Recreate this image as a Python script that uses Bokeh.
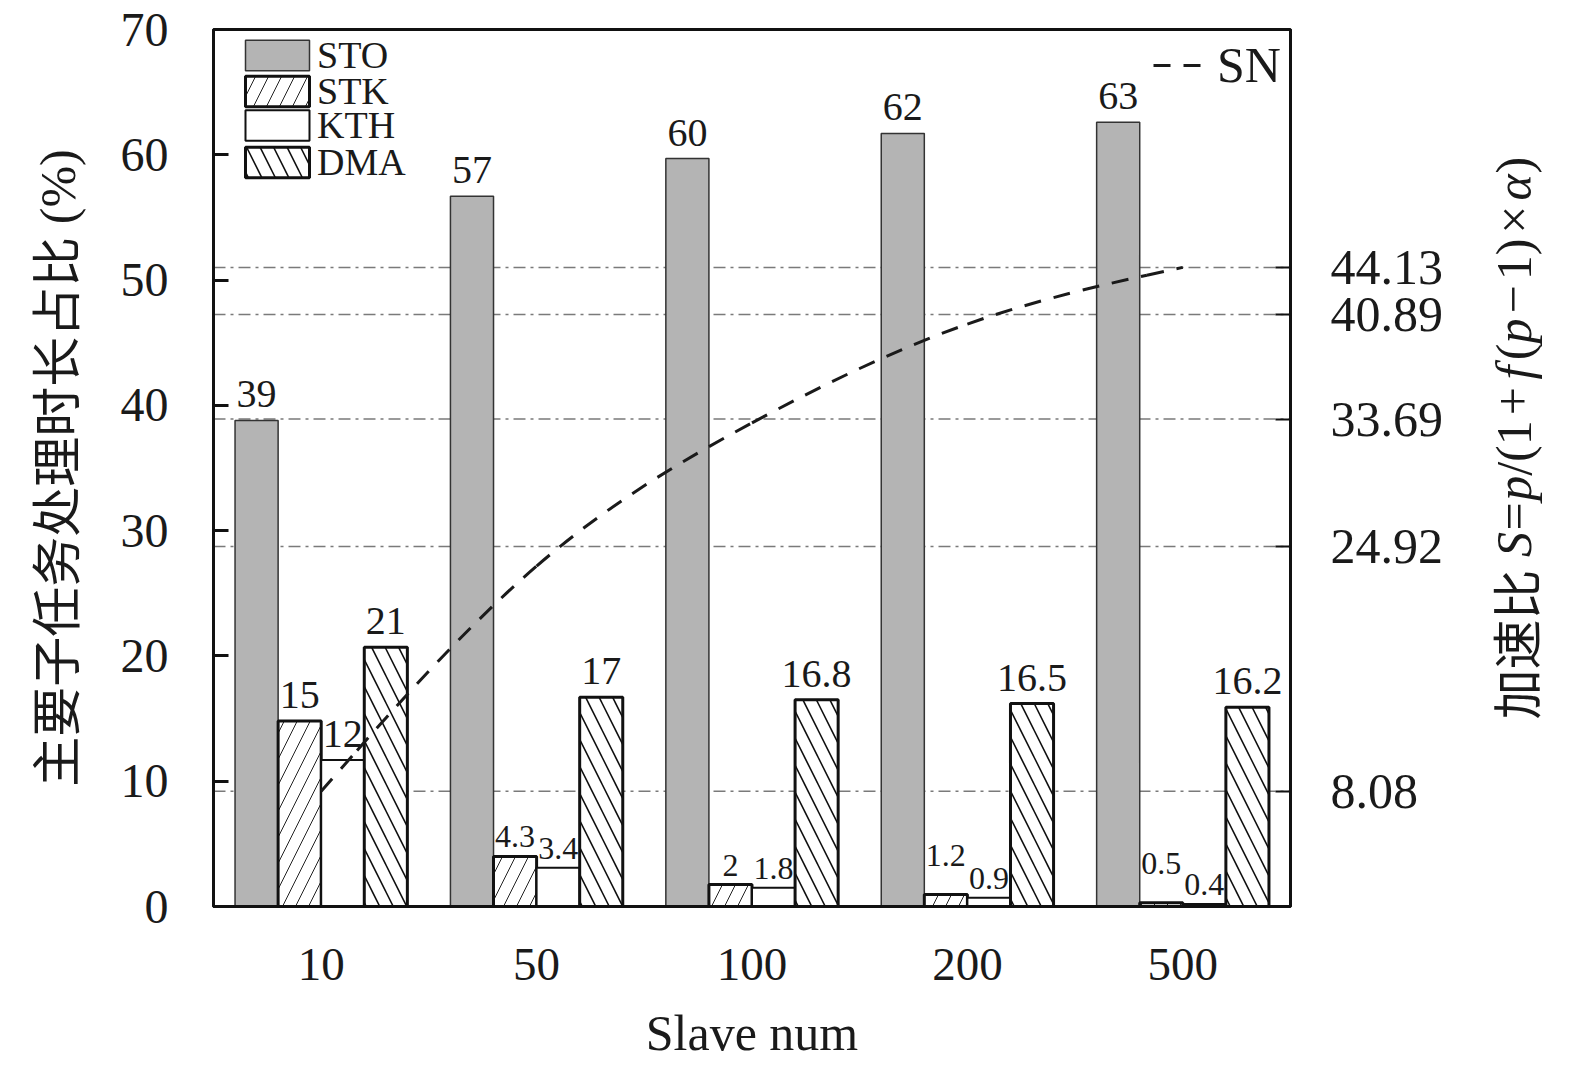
import math
from bokeh.plotting import figure
from bokeh.layouts import row
from bokeh.models import (ColumnDataSource, FactorRange, Range1d, LinearAxis, FixedTicker,
                          PrintfTickFormatter, Span, Legend, LegendItem, Grid)
from bokeh.transform import dodge
from bokeh.core.properties import value
from bokeh.embed import file_html
from bokeh.resources import INLINE

# ---------------- data ----------------
slave_num = ["10", "50", "100", "200", "500"]
sto = [38.8, 56.7, 59.7, 61.7, 62.6]
stk = [14.8, 4.0, 1.75, 0.95, 0.3]
kth = [11.7, 3.1, 1.5, 0.7, 0.2]
dma = [20.7, 16.7, 16.5, 16.2, 15.9]
sto_labels = ["39", "57", "60", "62", "63"]
stk_labels = ["15", "4.3", "2", "1.2", "0.5"]
kth_labels = ["12", "3.4", "1.8", "0.9", "0.4"]
dma_labels = ["21", "17", "16.8", "16.5", "16.2"]
sn = [8.08, 24.92, 33.69, 40.89, 44.13]
left_ticks = [0, 10, 20, 30, 40, 50, 60, 70]

SERIF = "'Liberation Serif'"
CJK = "'Noto Sans CJK SC'"
MIXED = "'Liberation Serif', 'Noto Sans CJK SC'"
FRAME_W = 1077
FRAME_H = 877
BORDER_LEFT = 213
BORDER_RIGHT = 170
BORDER_TOP = 29
BORDER_BOTTOM = 177

p = figure(x_range=FactorRange(factors=slave_num), y_range=Range1d(0, 70),
           frame_width=FRAME_W, frame_height=FRAME_H,
           min_border_left=BORDER_LEFT, min_border_right=BORDER_RIGHT, min_border_top=BORDER_TOP,
           min_border_bottom=BORDER_BOTTOM,
           output_backend="svg", toolbar_location=None)
p.extra_y_ranges = {"sn": Range1d(0.15, 60.5)}
p.xgrid.visible = False
p.ygrid.visible = False
p.outline_line_color = "#111111"
p.outline_line_width = 3
p.outline_line_alpha = 1.0

# dash-dot reference lines at the speed-up values (behind bars)
for v in sn:
    p.add_layout(Span(location=v, dimension="width", y_range_name="sn",
                      line_color="#7a7a7a", line_width=1.5, line_dash="12 5 3 5",
                      level="underlay"))

styles = {
    "STO": dict(fill_color="#b4b4b4", line_color="#333333", line_width=1.5),
    "STK": dict(fill_color="white", line_color="#111111", line_width=3,
                hatch_pattern="/", hatch_color="#222222", hatch_weight=1, hatch_scale=26),
    "KTH": dict(fill_color="white", line_color="#111111", line_width=2),
    "DMA": dict(fill_color="white", line_color="#111111", line_width=3,
                hatch_pattern="\\", hatch_color="#111111", hatch_weight=1.6, hatch_scale=27),
}
series = [("STO", sto, sto_labels, -0.3), ("STK", stk, stk_labels, -0.1),
          ("KTH", kth, kth_labels, 0.1), ("DMA", dma, dma_labels, 0.3)]

bar_renderers = {}
for name, vals, labs, off in series:
    sizes = ["40px" if v >= 10 else "32px" for v in vals]
    yoff = []
    for v in vals:
        base = -13 if v >= 10 else -9
        lift = -20 if (name == "STK" and v < 1.5) else 0
        yoff.append(base + lift)
    src = ColumnDataSource(dict(cat=slave_num, val=vals, label=labs, size=sizes, yoff=yoff))
    r = p.vbar(x=dodge("cat", off, range=p.x_range), top="val", width=0.2, bottom=0,
               source=src, **styles[name])
    bar_renderers[name] = r
    p.text(x=dodge("cat", off, range=p.x_range), y="val", text="label", source=src,
           text_align="center", text_baseline="bottom", text_font=value(SERIF),
           text_font_size="size", y_offset="yoff", text_color="#1a1a1a")

# speed-up curve: uniform cubic B-spline whose control points are the SN values,
# drawn as Bezier segments (end points clamped)
pts = [(i + 0.5, s) for i, s in enumerate(sn)]
ctrl = [pts[0], pts[0]] + pts + [pts[-1], pts[-1]]
bz = dict(x0=[], y0=[], x1=[], y1=[], cx0=[], cy0=[], cx1=[], cy1=[])
for i in range(len(ctrl) - 3):
    q0, q1, q2, q3 = ctrl[i:i + 4]
    b0 = [(q0[j] + 4 * q1[j] + q2[j]) / 6 for j in range(2)]
    c0 = [(2 * q1[j] + q2[j]) / 3 for j in range(2)]
    c1 = [(q1[j] + 2 * q2[j]) / 3 for j in range(2)]
    b1 = [(q1[j] + 4 * q2[j] + q3[j]) / 6 for j in range(2)]
    for (a, b), pt in zip([("x0", "y0"), ("cx0", "cy0"), ("cx1", "cy1"), ("x1", "y1")],
                          [b0, c0, c1, b1]):
        bz[a].append(pt[0])
        bz[b].append(pt[1])
r_sn = p.bezier(x0="x0", y0="y0", x1="x1", y1="y1", cx0="cx0", cy0="cy0", cx1="cx1", cy1="cy1",
                source=ColumnDataSource(bz), y_range_name="sn",
                line_color="#1a1a1a", line_width=3, line_dash="17 13")

# ---------------- axes ----------------
yax = p.yaxis[0]
yax.ticker = FixedTicker(ticks=left_ticks)
yax.major_tick_in = 15
yax.major_tick_out = 0
yax.minor_tick_in = 0
yax.minor_tick_out = 0
yax.axis_line_width = 3
yax.axis_line_color = "#111111"
yax.major_tick_line_width = 3
yax.major_tick_line_color = "#111111"
yax.major_label_text_font = SERIF
yax.major_label_text_font_size = "48px"
yax.major_label_text_color = "#1a1a1a"
yax.major_label_standoff = 45
yax.axis_label = "主要子任务处理时长占比 (%)"
yax.axis_label_text_font = MIXED
yax.axis_label_text_font_size = "50px"
yax.axis_label_text_font_style = "normal"
yax.axis_label_text_color = "#1a1a1a"
yax.axis_label_standoff = 32

xax = p.xaxis[0]
xax.major_tick_in = 0
xax.major_tick_out = 0
xax.minor_tick_in = 0
xax.minor_tick_out = 0
xax.axis_line_width = 3
xax.axis_line_color = "#111111"
xax.major_label_text_font = SERIF
xax.major_label_text_font_size = "47px"
xax.major_label_text_color = "#1a1a1a"
xax.major_label_standoff = 42
xax.axis_label = "Slave num"
xax.axis_label_text_font = SERIF
xax.axis_label_text_font_size = "50px"
xax.axis_label_text_font_style = "normal"
xax.axis_label_text_color = "#1a1a1a"
xax.axis_label_standoff = 22

rax = LinearAxis(y_range_name="sn", ticker=FixedTicker(ticks=sn),
                 formatter=PrintfTickFormatter(format="%.2f"))
rax.major_tick_in = 15
rax.major_tick_out = 0
rax.minor_tick_in = 0
rax.minor_tick_out = 0
rax.axis_line_width = 3
rax.axis_line_color = "#111111"
rax.major_tick_line_width = 2
rax.major_tick_line_color = "#111111"
rax.major_label_text_font = SERIF
rax.major_label_text_font_size = "50px"
rax.major_label_text_color = "#1a1a1a"
rax.major_label_standoff = 40
p.add_layout(rax, "right")

# ---------------- legends ----------------
legend_centers = [23.5, 60, 94, 130.5]   # glyph centres below the frame top (px)
for name, c in zip(["STO", "STK", "KTH", "DMA"], legend_centers):
    leg = Legend(items=[LegendItem(label=name, renderers=[bar_renderers[name]])],
                 location=(24, 853 - c), orientation="vertical",
                 glyph_width=80, glyph_height=38, label_standoff=0, spacing=0,
                 padding=0, margin=0,
                 label_text_font=SERIF, label_text_font_size="38px", label_text_color="#1a1a1a",
                 border_line_color=None, background_fill_alpha=0)
    p.add_layout(leg)

leg2 = Legend(items=[LegendItem(label="SN", renderers=[r_sn], index=2)],
              location=(940, 812), glyph_width=55, glyph_height=40, label_standoff=9,
              padding=0, margin=0,
              label_text_font=SERIF, label_text_font_size="50px", label_text_color="#1a1a1a",
              border_line_color=None, background_fill_alpha=0)
p.add_layout(leg2)

# ---------------- right-hand axis title (reads bottom to top, mixed italic) ----------------
# a narrow companion plot whose frame lines up with the main frame; its ranges are in pixels
T_W = 100
p2 = figure(frame_width=T_W, frame_height=FRAME_H,
            x_range=Range1d(0, T_W), y_range=Range1d(0, FRAME_H),
            min_border_left=0, min_border_right=0, min_border_top=BORDER_TOP,
            min_border_bottom=BORDER_BOTTOM, toolbar_location=None, output_backend="svg",
            x_axis_location=None, y_axis_location=None, outline_line_color=None)
for g in p2.center:
    if isinstance(g, Grid):
        g.visible = False

FS = 50.0
# (text, font kind, advance in em, padding before/after in em)
pieces = [("加速比", "cjk", 3.0, 0.0, 0.0), (" ", "n", 0.25, 0.0, 0.0),
          ("S", "i", 0.5, 0.0, 0.0), ("=", "n", 0.564, 0.03, 0.03),
          ("p", "i", 0.5, 0.0, 0.0), ("/(1", "n", 1.111, 0.0, 0.0),
          ("+", "n", 0.564, 0.1, 0.1), ("f", "i", 0.278, 0.05, 0.11),
          ("(", "n", 0.333, 0.0, 0.0), ("p", "i", 0.5, 0.0, 0.0),
          ("−", "n", 0.564, 0.1, 0.1), ("1)", "n", 0.833, 0.0, 0.0),
          ("×", "n", 0.564, 0.1, 0.1), ("α", "i", 0.52, 0.0, 0.0),
          (")", "n", 0.333, 0.02, 0.0)]
base_x = 53.0                      # text line, px from the companion frame's left edge
start_y = FRAME_H - (719.0 - BORDER_TOP)   # title starts 719 px from the page top
groups = {"cjk": ([], []), "n": ([], []), "i": ([], [])}
cum = 0.0
for txt, kind, adv, pb, pa in pieces:
    cum += pb
    groups[kind][0].append(txt)
    groups[kind][1].append(start_y + cum * FS)
    cum += adv + pa
for kind, font, style in [("cjk", CJK, "normal"), ("n", SERIF, "normal"), ("i", SERIF, "italic")]:
    txts, ys = groups[kind]
    p2.text(x=[base_x] * len(txts), y=ys, text=txts, angle=math.pi / 2,
            text_align="left", text_baseline="alphabetic", text_font=value(font),
            text_font_style=style, text_font_size=f"{int(FS)}px", text_color="#1a1a1a")

layout = row(p, p2)
open("out.html", "w").write(file_html(layout, INLINE))
